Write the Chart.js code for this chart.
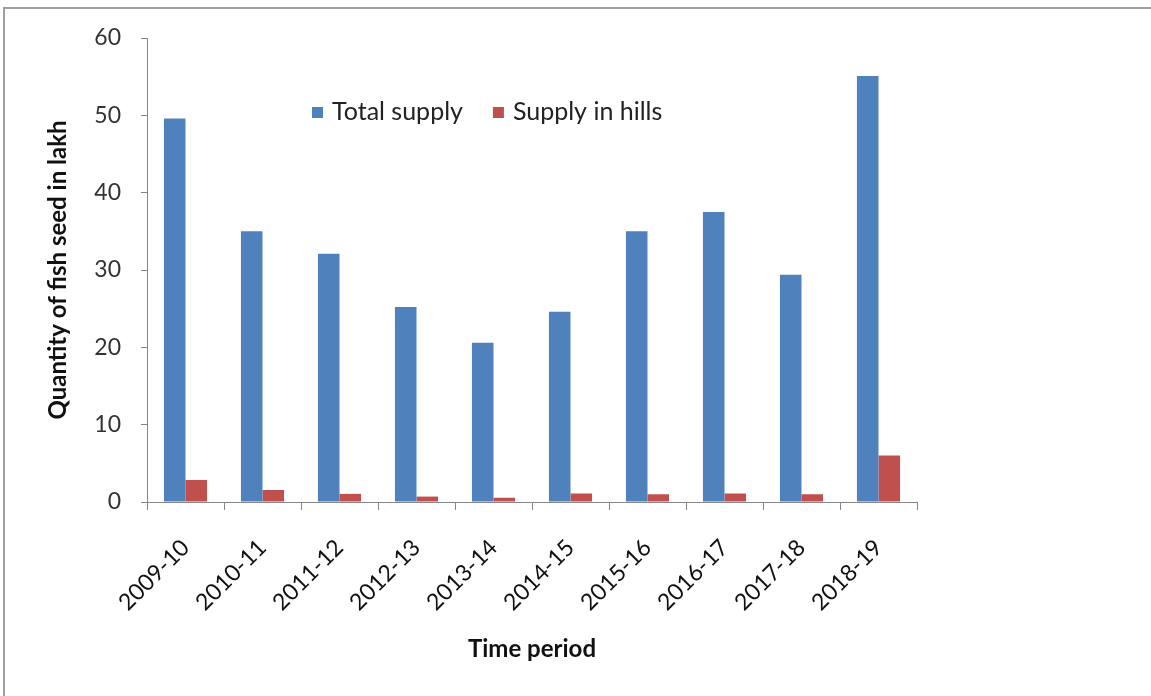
<!DOCTYPE html>
<html>
<head>
<meta charset="utf-8">
<script src="https://cdn.jsdelivr.net/npm/chart.js@4.4.1/dist/chart.umd.min.js"></script>
<style>
    body { margin: 0; background: #fff; }
    #wrap { position: relative; width: 1151px; height: 696px; }
    #frame { position: absolute; left: 3px; top: 7px; right: 0; bottom: 0; border-top: 2px solid #a0a0a0; border-left: 2px solid #a0a0a0; }
    canvas { position: absolute; left: 0; top: 0; }
</style>
</head>
<body>
<div id="wrap">
    <div id="frame"></div>
    <canvas id="myChart" width="1151" height="696"></canvas>
</div>
<script>
var periods = ['2009-10', '2010-11', '2011-12', '2012-13', '2013-14', '2014-15', '2015-16', '2016-17', '2017-18', '2018-19'];
var totalSupply = [49.6, 35.0, 32.1, 25.2, 20.6, 24.6, 35.0, 37.5, 29.4, 55.1];
var hillsSupply = [2.85, 1.55, 1.05, 0.7, 0.55, 1.1, 1.0, 1.1, 1.0, 6.0];
var yTicks = [0, 10, 20, 30, 40, 50, 60];

var fontFamily = 'Lato, "Open Sans", sans-serif';

// legend sits inside the plot, so draw it by hand
var insideLegend = {
    id: 'insideLegend',
    afterDraw: function(chart) {
        var ctx = chart.ctx;
        var area = chart.chartArea;
        var x = area.left + 165;
        var y = area.top + 74;
        ctx.save();
        ctx.font = '25px ' + fontFamily;
        ctx.textBaseline = 'middle';
        chart.data.datasets.forEach(function(ds) {
            ctx.fillStyle = ds.backgroundColor;
            ctx.fillRect(x, y - 5, 11, 11);
            ctx.fillStyle = '#222';
            ctx.fillText(ds.label, x + 20, y);
            x += 20 + ctx.measureText(ds.label).width + 30;
        });
        ctx.restore();
    }
};

const ctx = document.getElementById('myChart');
var chart = new Chart(ctx, {
    type: 'bar',
    data: {
        labels: periods,
        datasets: [
            { label: 'Total supply', data: totalSupply, backgroundColor: '#4F81BD' },
            { label: 'Supply in hills', data: hillsSupply, backgroundColor: '#C0504D' }
        ]
    },
    options: {
        responsive: false,
        animation: false,
        layout: { padding: { left: 40, top: 38, right: 234, bottom: 30 } },
        datasets: { bar: { categoryPercentage: 0.56, barPercentage: 1.0 } },
        plugins: {
            legend: { display: false },
            tooltip: { enabled: false }
        },
        scales: {
            x: {
                grid: { display: true, drawOnChartArea: false, drawTicks: true, tickLength: 8, tickColor: '#868686', offset: true },
                border: { color: '#868686', width: 1 },
                ticks: { color: '#111', font: { family: fontFamily, size: 23 }, minRotation: 45, maxRotation: 45, padding: 24 },
                title: { display: true, text: 'Time period', color: '#111', font: { family: fontFamily, size: 24, weight: 'bold' }, padding: { top: 0, bottom: 2 } },
                afterFit: function(scale) { scale.height = 696 - 502 - 30; }
            },
            y: {
                min: 0,
                max: 60,
                afterBuildTicks: function(scale) { scale.ticks = yTicks.map(function(v) { return { value: v }; }); },
                grid: { display: true, drawOnChartArea: false, drawTicks: true, tickLength: 6, tickColor: '#868686' },
                border: { color: '#868686', width: 1 },
                ticks: { color: '#333', font: { family: fontFamily, size: 23 }, padding: 20 },
                title: { display: true, text: 'Quantity of fish seed in lakh', color: '#111', font: { family: fontFamily, size: 24, weight: 'bold' }, padding: { top: 4, bottom: 0 } },
                afterFit: function(scale) { scale.width = 147 - 40; }
            }
        }
    },
    plugins: [insideLegend]
});
</script>
</body>
</html>
